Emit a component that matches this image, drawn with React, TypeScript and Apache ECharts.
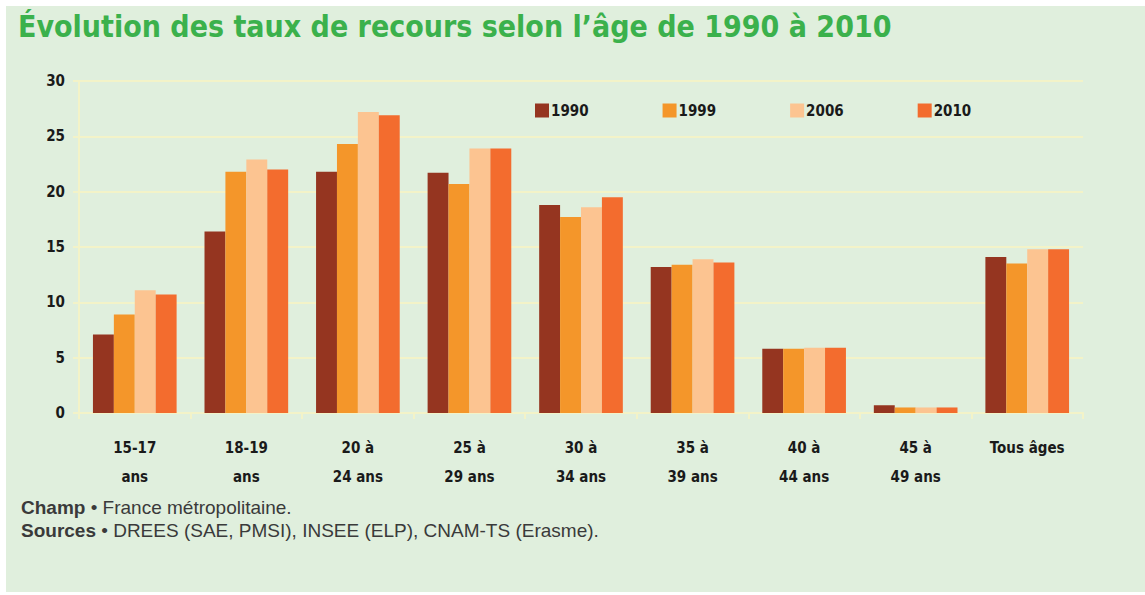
import React, { useEffect, useRef } from "react";
import * as echarts from "echarts";

const categories = [
  "15-17\nans",
  "18-19\nans",
  "20 à\n24 ans",
  "25 à\n29 ans",
  "30 à\n34 ans",
  "35 à\n39 ans",
  "40 à\n44 ans",
  "45 à\n49 ans",
  "Tous âges",
];
const years = ["1990", "1999", "2006", "2010"];
const values1990 = [7.1, 16.4, 21.8, 21.7, 18.8, 13.2, 5.8, 0.7, 14.1];
const values1999 = [8.9, 21.8, 24.3, 20.7, 17.7, 13.4, 5.8, 0.5, 13.5];
const values2006 = [11.1, 22.9, 27.2, 23.9, 18.6, 13.9, 5.9, 0.5, 14.8];
const values2010 = [10.7, 22.0, 26.9, 23.9, 19.5, 13.6, 5.9, 0.5, 14.8];
const yTicks = [0, 5, 10, 15, 20, 25, 30];

const colors = ["#953520", "#f4962a", "#fcc491", "#f36c2e"];
const grid = "#f3f3c8";
const labelFont = "'Liberation Sans Narrow', 'DejaVu Sans Condensed', Arial, sans-serif";
const noteFont = "'Liberation Sans', Arial, sans-serif";

export default function App() {
  const ref = useRef<HTMLDivElement>(null);
  useEffect(() => {
    if (!ref.current) return;
    const chart = echarts.init(ref.current, null, { renderer: "svg" });
    const seriesData = [values1990, values1999, values2006, values2010];
    chart.setOption({
      animation: false,
      backgroundColor: "#ffffff",
      graphic: [
        {
          type: "rect",
          left: 6,
          top: 6,
          shape: { width: 1139, height: 586 },
          style: { fill: "#e0efdd" },
          z: -10,
        },
        {
          type: "text",
          left: 18,
          top: 11,
          style: {
            text: "Évolution des taux de recours selon l’âge de 1990 à 2010",
            fontSize: 30,
            fontWeight: "bold",
            fontFamily: labelFont,
            fill: "#3bb14c",
          },
        },
        {
          type: "text",
          left: 21,
          top: 496,
          style: {
            text: "{b|Champ} • France métropolitaine.\n{b|Sources} • DREES (SAE, PMSI), INSEE (ELP), CNAM-TS (Erasme).",
            fontSize: 19,
            lineHeight: 23,
            fontFamily: noteFont,
            fill: "#3a3a3a",
            rich: {
              b: {
                fontSize: 19,
                fontWeight: "bold",
                fontFamily: noteFont,
                fill: "#3a3a3a",
                lineHeight: 23,
              },
            },
          },
        },
      ],
      legend: {
        data: years,
        left: 530,
        top: 98,
        itemWidth: 14,
        itemHeight: 14,
        itemGap: 74,
        icon: "rect",
        textStyle: {
          fontSize: 15,
          fontWeight: "bold",
          fontFamily: labelFont,
          color: "#1a1a1a",
          padding: [0, 0, 0, -3],
        },
      },
      grid: { left: 79, right: 62, top: 81, bottom: 182 },
      xAxis: {
        type: "category",
        data: categories,
        axisLine: { lineStyle: { color: grid, width: 2 } },
        axisTick: { show: true, length: 6, interval: 0, lineStyle: { color: grid, width: 2 } },
        axisLabel: {
          interval: 0,
          margin: 20,
          fontSize: 15,
          lineHeight: 29,
          fontWeight: "bold",
          fontFamily: labelFont,
          color: "#1a1a1a",
          verticalAlign: "top",
        },
      },
      yAxis: {
        type: "value",
        min: yTicks[0],
        max: yTicks[yTicks.length - 1],
        interval: 5,
        axisLine: { show: true, lineStyle: { color: grid, width: 2 } },
        axisTick: { show: true, length: 6, lineStyle: { color: grid, width: 2 } },
        splitLine: { lineStyle: { color: grid, width: 2 } },
        axisLabel: {
          margin: 14,
          fontSize: 15,
          fontWeight: "bold",
          fontFamily: labelFont,
          color: "#1a1a1a",
        },
      },
      series: years.map((y, i) => ({
        name: y,
        type: "bar",
        data: seriesData[i],
        barGap: "0%",
        barCategoryGap: "25%",
        itemStyle: { color: colors[i] },
      })),
    });
    return () => chart.dispose();
  }, []);
  return (
    <div
      ref={ref}
      style={{ position: "fixed", left: 0, top: 0, width: 1145, height: 595 }}
    />
  );
}
